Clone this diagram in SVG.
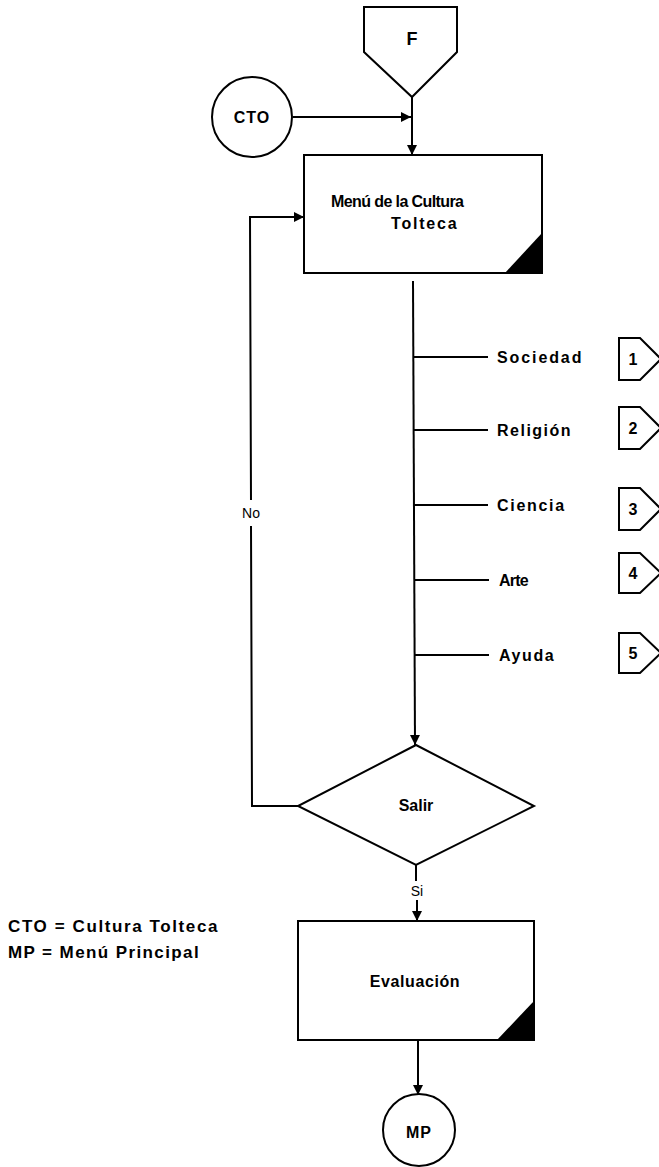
<svg xmlns="http://www.w3.org/2000/svg" width="659" height="1167" viewBox="0 0 659 1167">
  <defs>
    <marker id="arrow" viewBox="0 0 10 10" refX="10" refY="5" markerWidth="10" markerHeight="10" markerUnits="userSpaceOnUse" orient="auto">
      <path d="M0,0 L10,5 L0,10 Z" fill="#000"/>
    </marker>
  </defs>
  <style>
    .shape { fill: #fff; stroke: #000; stroke-width: 2; }
    .line { fill: none; stroke: #000; stroke-width: 2; }
    .corner { fill: #000; stroke: none; }
    .lbl { font-family: "Liberation Sans", Arial, sans-serif; font-weight: bold; fill: #000; }
    .thin { font-family: "Liberation Sans", Arial, sans-serif; fill: #000; font-size: 14px; }
  </style>
  <rect width="659" height="1167" fill="#fff"/>

  <!-- connectors -->
  <g id="connectors">
    <path class="line" d="M412,97 L412,155" marker-end="url(#arrow)"/>
    <path class="line" d="M293,117 L411,117" marker-end="url(#arrow)"/>
    <path class="line" d="M413,281 L415,745" marker-end="url(#arrow)"/>
    <path class="line" d="M413,357 L488,357"/>
    <path class="line" d="M413,430 L488,430"/>
    <path class="line" d="M414,505 L488,505"/>
    <path class="line" d="M414,580 L489,580"/>
    <path class="line" d="M415,655 L489,655"/>
    <path class="line" d="M298,806 L252,806 L251,526"/>
    <path class="line" d="M251,500 L250,217 L304,217" marker-end="url(#arrow)"/>
    <text class="thin" x="251" y="518" text-anchor="middle">No</text>
    <path class="line" d="M416,865 L416,881"/>
    <text class="thin" x="417" y="896" text-anchor="middle">Si</text>
    <path class="line" d="M417,900 L417,921" marker-end="url(#arrow)"/>
    <path class="line" d="M418,1040 L418,1095" marker-end="url(#arrow)"/>
  </g>

  <!-- start connector F -->
  <g id="node-f">
    <polygon class="shape" points="364,7 457,7 457,52 412,97 364,52"/>
    <text class="lbl" x="412" y="45" font-size="18" text-anchor="middle">F</text>
  </g>

  <!-- CTO on-page connector -->
  <g id="node-cto">
    <circle class="shape" cx="252" cy="117" r="40"/>
    <text class="lbl" x="252" y="123" font-size="16" text-anchor="middle" letter-spacing="1">CTO</text>
  </g>

  <!-- menu process -->
  <g id="node-menu">
    <rect class="shape" x="304" y="155" width="238" height="118"/>
    <polygon class="corner" points="505,273 542,273 542,233"/>
    <text class="lbl" x="331" y="207" font-size="16" letter-spacing="-0.6">Menú de la Cultura</text>
    <text class="lbl" x="391" y="229" font-size="16" letter-spacing="1.8">Tolteca</text>
  </g>

  <!-- menu options -->
  <g id="opt-sociedad">
    <text class="lbl" x="497" y="363" font-size="16" letter-spacing="1.9">Sociedad</text>
    <polygon class="shape" points="619,338 640,338 661,359 640,380 619,380"/>
    <text class="lbl" x="633" y="365" font-size="16" text-anchor="middle">1</text>
  </g>
  <g id="opt-religion">
    <text class="lbl" x="497" y="436" font-size="16" letter-spacing="1.5">Religión</text>
    <polygon class="shape" points="619,407 640,407 661,428 640,449 619,449"/>
    <text class="lbl" x="633" y="434" font-size="16" text-anchor="middle">2</text>
  </g>
  <g id="opt-ciencia">
    <text class="lbl" x="497" y="511" font-size="16" letter-spacing="1.7">Ciencia</text>
    <polygon class="shape" points="619,488 640,488 661,509 640,530 619,530"/>
    <text class="lbl" x="633" y="515" font-size="16" text-anchor="middle">3</text>
  </g>
  <g id="opt-arte">
    <text class="lbl" x="499" y="586" font-size="16" letter-spacing="-0.8">Arte</text>
    <polygon class="shape" points="619,553 640,553 661,573 640,593 619,593"/>
    <text class="lbl" x="633" y="579" font-size="16" text-anchor="middle">4</text>
  </g>
  <g id="opt-ayuda">
    <text class="lbl" x="499" y="661" font-size="16" letter-spacing="1.6">Ayuda</text>
    <polygon class="shape" points="619,633 640,633 661,653 640,673 619,673"/>
    <text class="lbl" x="633" y="659" font-size="16" text-anchor="middle">5</text>
  </g>

  <!-- exit decision -->
  <g id="node-salir">
    <polygon class="shape" points="416,745 534,806 416,865 298,806"/>
    <text class="lbl" x="416" y="811" font-size="16" text-anchor="middle">Salir</text>
  </g>

  <!-- evaluation process -->
  <g id="node-evaluacion">
    <rect class="shape" x="298" y="921" width="236" height="119"/>
    <polygon class="corner" points="497,1040 534,1040 534,1001"/>
    <text class="lbl" x="415" y="987" font-size="16" text-anchor="middle" letter-spacing="0.6">Evaluación</text>
  </g>

  <!-- main menu connector -->
  <g id="node-mp">
    <circle class="shape" cx="419" cy="1130" r="36"/>
    <text class="lbl" x="419" y="1138" font-size="16" text-anchor="middle" letter-spacing="1">MP</text>
  </g>

  <!-- legend -->
  <g id="legend">
    <text class="lbl" x="8" y="932" font-size="17" letter-spacing="1.6">CTO = Cultura Tolteca</text>
    <text class="lbl" x="8" y="958" font-size="17" letter-spacing="1.4">MP = Menú Principal</text>
  </g>
</svg>
